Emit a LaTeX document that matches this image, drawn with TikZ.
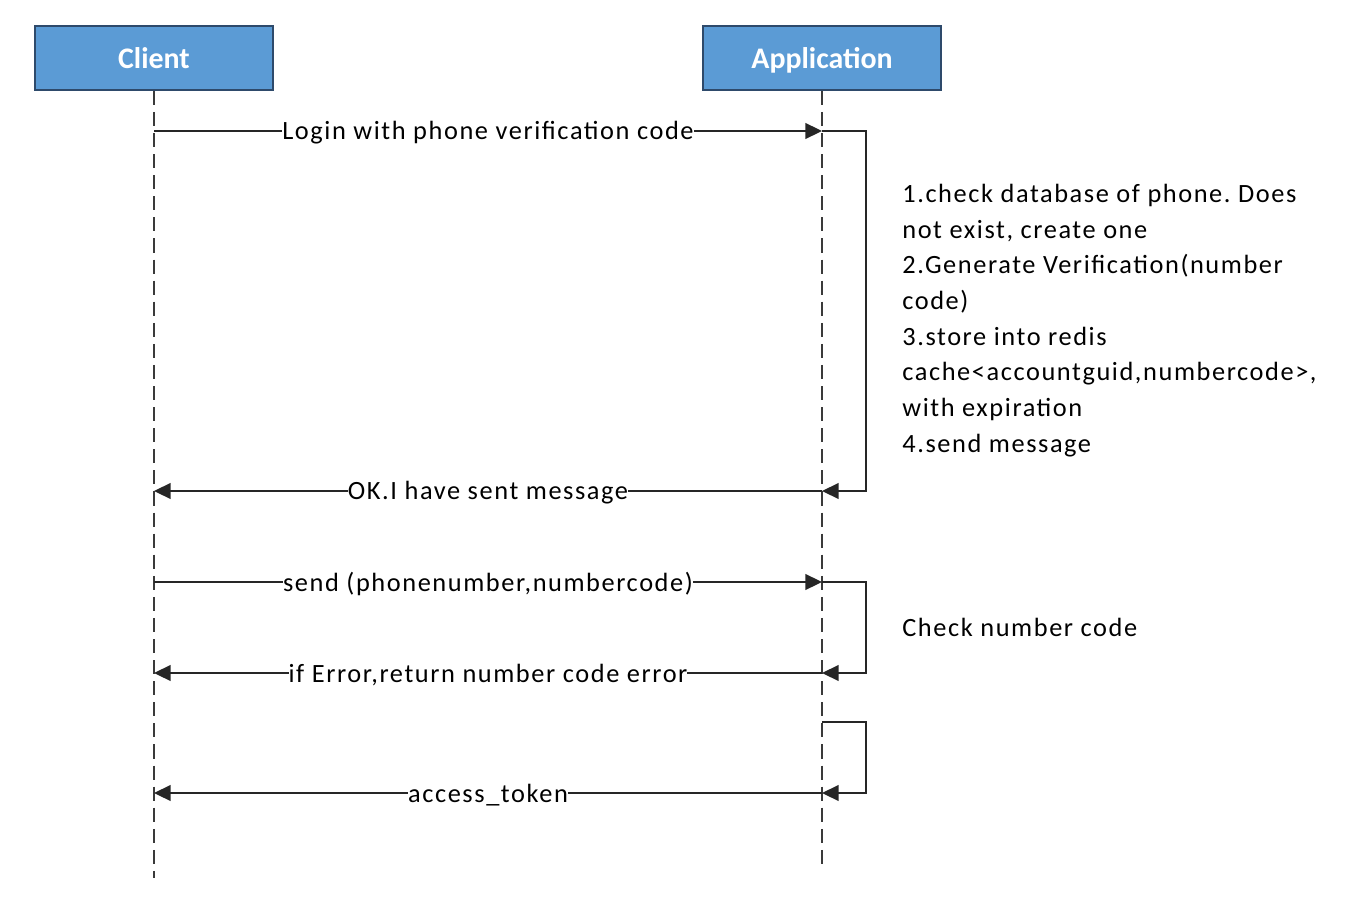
\documentclass[tikz,border=0pt]{standalone}
\usepackage{fontspec}
\setmainfont{Carlito}[LetterSpace=6]
\newfontfamily\titlefont{Carlito}
\usepackage{tikz}
\usetikzlibrary{arrows.meta,positioning}
\definecolor{boxblue}{HTML}{5B9BD5}
\definecolor{boxline}{HTML}{2E4A6B}
\definecolor{lifegray}{HTML}{3A3A3A}
\frenchspacing

\begin{document}
\begin{tikzpicture}[x=0.02cm,y=-0.02cm]
	\useasboundingbox (0,0) rectangle (1354,898);
	\tikzset{
		lifeline/.style={draw=lifegray,line width=0.9pt,dash pattern=on 8pt off 4pt},
		msg/.style={draw=black!85,line width=1pt,-{Triangle[length=9.5pt,width=9pt]}},
		lbl/.style={fill=white,inner sep=0pt,yshift=-1pt,font=\fontsize{15}{18}\selectfont},
	}
	\begin{scope}[every node/.style={rectangle,draw=boxline,fill=boxblue,line width=1pt,minimum width=4.76cm,minimum height=1.28cm,text=white,text height=13pt,text depth=0.5pt,font=\titlefont\fontsize{17}{19}\selectfont\bfseries}]
		\node (client) at (154,58) {Client};
		\node (app) at (822,58) {Application};
	\end{scope}
	\coordinate (clientend) at (154,878);
	\coordinate (append) at (822,866);
	\draw[lifeline] (client) -- (clientend);
	\draw[lifeline] (app) -- (append);
	\foreach \n/\y in {1/131,2/491,3/582,4/673,5/722,6/793} {
		\coordinate (c\n) at (154,\y);
		\coordinate (a\n) at (822,\y);
		\coordinate (r\n) at (866,\y);
	}
	\draw[msg] (c1) -- node[lbl] {Login with phone verification code} (a1);
	\draw[msg] (a1) -- (r1) -- (r2) -- (a2);
	\draw[msg] (a2) -- node[lbl] {OK.I have sent message} (c2);
	\draw[msg] (c3) -- node[lbl] {send (phonenumber,numbercode)} (a3);
	\draw[msg] (a3) -- (r3) -- (r4) -- (a4);
	\draw[msg] (a4) -- node[lbl] {if Error,return number code error} (c4);
	\draw[msg] (a5) -- (r5) -- (r6) -- (a6);
	\draw[msg] (a6) -- node[lbl] {access\_token} (c6);
	\begin{scope}[every node/.style={align=left,inner sep=0pt,font=\fontsize{15}{20.3}\selectfont}]
		\node[anchor=north west] (steps) at (902,184) {1.check database of phone. Does\\not exist, create one\\2.Generate Verification(number\\code)\\3.store into redis\\cache<accountguid,numbercode>,\\with expiration\\4.send message};
		\node[anchor=base west] (check) at (902,636) {Check number code};
	\end{scope}
\end{tikzpicture}
\end{document}
